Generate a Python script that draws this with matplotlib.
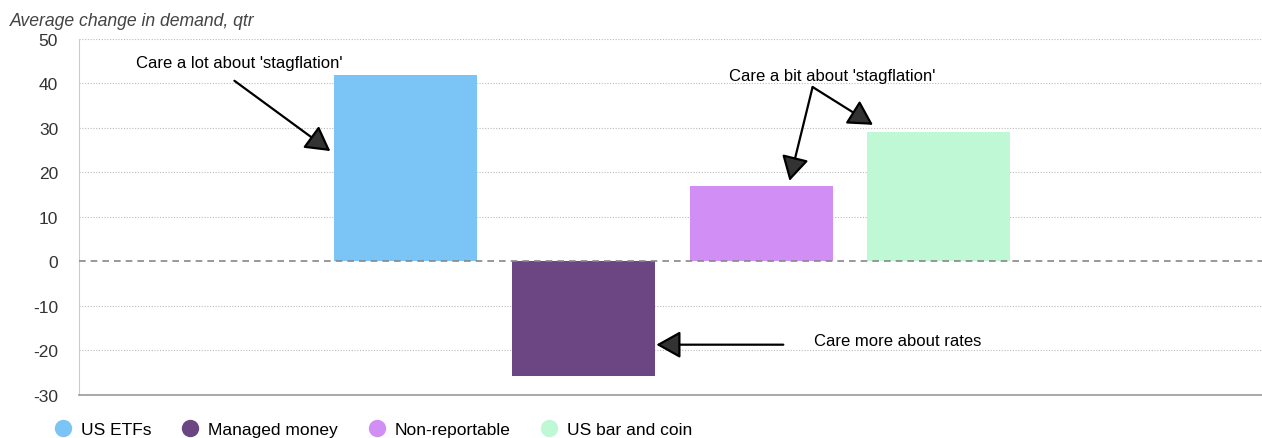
import matplotlib
matplotlib.use("Agg")
import matplotlib.pyplot as plt
from matplotlib.lines import Line2D

plt.rcParams["font.family"] = ["Liberation Sans", "DejaVu Sans"]

# demand change per investor group
categories = ["US ETFs", "Managed money", "Non-reportable", "US bar and coin"]
values = [42, -25.8, 17, 29]
colors = ["#7AC5F6", "#6B4682", "#D18FF5", "#BEF8D5"]
yticks = [-30, -20, -10, 0, 10, 20, 30, 40, 50]

fig = plt.figure(figsize=(12.62, 4.39), dpi=100)
ax = fig.add_axes([0.0626, 0.098, 0.9374, 0.811])

x = list(range(len(categories)))
ax.bar(x, values, width=0.805, color=colors, zorder=3)

ax.set_xlim(-1.84, 4.82)
ax.set_ylim(-30, 50)
ax.set_yticks(yticks)
ax.set_yticklabels([str(t) for t in yticks], fontsize=12.5, color="#333333")
ax.set_xticks([])
ax.tick_params(axis="y", length=0, pad=15)

for t in yticks:
    if t in (-30, 0):
        continue
    ax.axhline(t, color="#bbbbbb", lw=0.8, ls=(0, (1, 1.5)), zorder=1)
ax.axhline(0, color="#888888", lw=1.2, ls=(0, (4, 3)), zorder=4)

for side in ("top", "right"):
    ax.spines[side].set_visible(False)
ax.spines["left"].set_color("#cccccc")
ax.spines["bottom"].set_color("#999999")
ax.spines["bottom"].set_linewidth(1.2)

fig.text(0.008, 0.95, "Average change in demand, qtr", fontsize=12.7,
         style="italic", color="#444444", va="center", ha="left")

arrow = dict(arrowstyle="-|>,head_length=0.5,head_width=0.28", color="black",
             lw=1.6, mutation_scale=30, shrinkA=0, shrinkB=0, fc="#333333")

ax.text(-0.937, 44.6, "Care a lot about 'stagflation'", fontsize=12,
        ha="center", va="center")
ax.annotate("", xy=(-0.425, 24.8), xytext=(-0.965, 40.6), arrowprops=arrow)

ax.text(2.40, 41.7, "Care a bit about 'stagflation'", fontsize=12,
        ha="center", va="center")
ax.annotate("", xy=(2.16, 18.1), xytext=(2.29, 39.2), arrowprops=arrow)
ax.annotate("", xy=(2.63, 30.7), xytext=(2.29, 39.2), arrowprops=arrow)

ax.text(2.77, -17.8, "Care more about rates", fontsize=12,
        ha="center", va="center")
ax.annotate("", xy=(1.41, -18.7), xytext=(2.125, -18.7), arrowprops=arrow)

handles = [Line2D([], [], marker="o", ls="", markersize=11.5, color=c,
                  markeredgecolor=c) for c in colors]
fig.legend(handles, categories, loc="center left", bbox_to_anchor=(0.043, 0.019),
           ncol=4, frameon=False, fontsize=12.5, borderpad=0, borderaxespad=0,
           handlelength=1.0, handletextpad=0.53, columnspacing=1.74)

fig.savefig("out.png", dpi=100, facecolor="white")
